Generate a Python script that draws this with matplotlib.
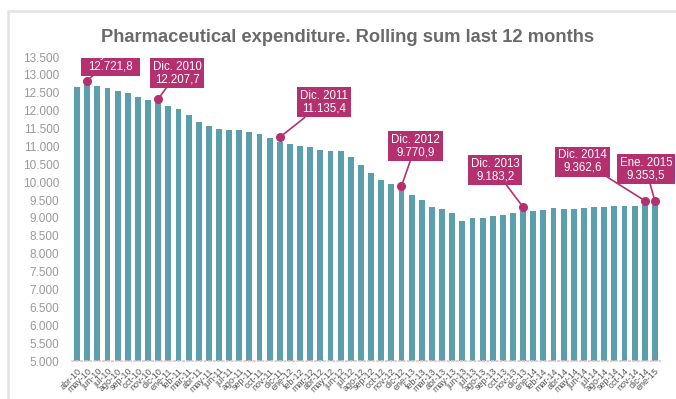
import matplotlib.pyplot as plt
from matplotlib.patches import Rectangle

plt.rcParams['font.family'] = ['Liberation Sans', 'DejaVu Sans']

months = ["ene", "feb", "mar", "abr", "may", "jun", "jul", "ago", "sep", "oct", "nov", "dic"]
labels = [m + "-" + str(y) for y in range(10, 16) for m in months][3:61]

values = [12650, 12721.8, 12690, 12630, 12560, 12480, 12370, 12300, 12207.7, 12120,
          12040, 11870, 11680, 11570, 11500, 11460, 11450, 11400, 11360, 11240,
          11135.4, 11060, 11010, 10970, 10900, 10860, 10880, 10690, 10480, 10260,
          10070, 9950, 9770.9, 9650, 9490, 9310, 9240, 9140, 8910, 8990,
          9000, 9050, 9090, 9130, 9183.2, 9200, 9210, 9270, 9250, 9260,
          9270, 9300, 9300, 9320, 9330, 9320, 9362.6, 9353.5]

# annotated points: bar index, label, value text
notes_idx = [1, 8, 20, 32, 44, 56, 57]
notes_name = ["May. 2010", "Dic. 2010", "Dic. 2011", "Dic. 2012", "Dic. 2013", "Dic. 2014", "Ene. 2015"]
notes_text = ["12.721,8", "12.207,7", "11.135,4", "9.770,9", "9.183,2", "9.362,6", "9.353,5"]
# box offsets from the dot, in pixels
notes_dx = [23, 19, 44, 14, -28, -62, -9]
notes_dy = [20, 26, 35, 40, 37, 39, 32]

bar_color = "#5b9fad"
mag = "#b5306e"

fig = plt.figure(figsize=(6.76, 3.99), dpi=100)
ax = fig.add_axes([72/676, 38/399, 588/676, 304/399])

x = list(range(len(values)))
ax.bar(x, values, width=0.58, color=bar_color, zorder=2)
ax.set_ylim(5000, 13500)
ax.set_xlim(-0.5, len(values) - 0.5)

yt = list(range(5000, 14000, 500))
ax.set_yticks(yt)
ax.set_yticklabels([f"{v:,}".replace(",", ".") for v in yt], fontsize=8.5, color="#999999")
ax.set_xticks(x)
ax.set_xticklabels(labels, rotation=45, ha="right", rotation_mode="anchor",
                   fontsize=6.5, color="#555555")
ax.tick_params(axis="y", length=0, pad=9)
ax.tick_params(axis="x", length=0, pad=4)

for s in ["top", "right", "left"]:
    ax.spines[s].set_visible(False)
ax.spines["bottom"].set_color("#e6c3ca")
ax.spines["bottom"].set_linestyle(":")
ax.spines["bottom"].set_linewidth(1.2)

for k in range(len(notes_idx)):
    i = notes_idx[k]
    dot_y = values[i] + 120
    ax.plot(i, dot_y, "o", ms=5.5, color=mag, zorder=4, clip_on=False)
    ax.annotate(notes_name[k] + "\n" + notes_text[k], xy=(i, dot_y),
                xytext=(notes_dx[k], notes_dy[k]), textcoords="offset pixels",
                ha="center", va="center", color="white", fontsize=8.3, linespacing=1.05,
                bbox=dict(boxstyle="square,pad=0.25", fc=mag, ec="none"),
                arrowprops=dict(arrowstyle="-", color=mag, lw=1.2, shrinkA=0, shrinkB=0),
                zorder=5, annotation_clip=False)

# outer light frame
fig.patches.append(Rectangle((8/676, -0.05), 1.0, 1 - 11/399 + 0.05, transform=fig.transFigure,
                             fc="none", ec="#e3e3e3", lw=1.8, zorder=1))
# white strip behind the title (hides top of first box)
fig.patches.append(Rectangle((78/676, 1 - 57.5/399), 522/676, 42/399, transform=fig.transFigure,
                             fc="white", ec="none", zorder=10))
fig.text(348/676, 1 - 41.7/399, "Pharmaceutical expenditure. Rolling sum last 12 months",
         ha="center", va="baseline", fontsize=13.2, fontweight="bold", color="#6a6a6a", zorder=11)

fig.savefig("out.png", dpi=100)
